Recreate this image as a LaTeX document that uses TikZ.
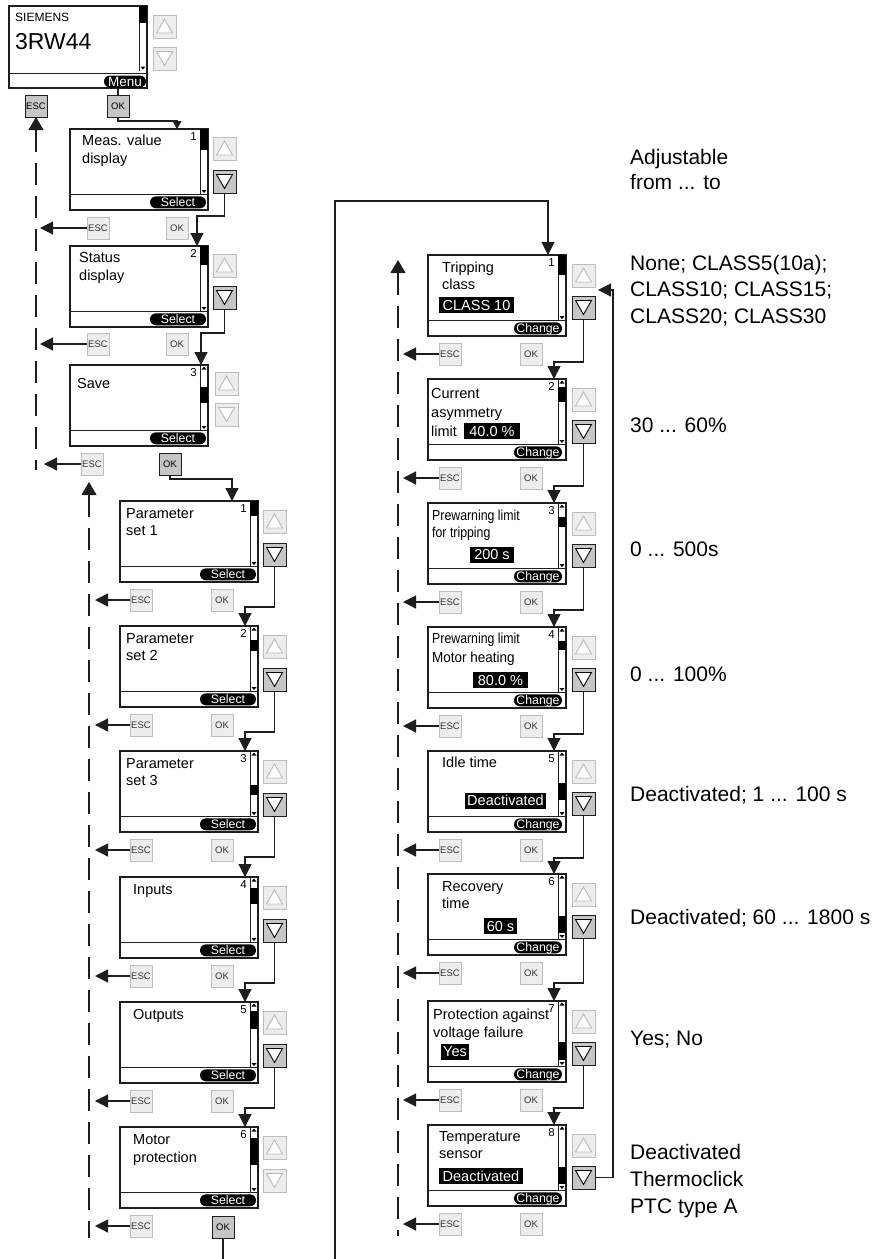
\documentclass[tikz,border=0pt]{standalone}
\usepackage{fontspec}
\setmainfont{Liberation Sans}
\usepackage{graphicx}
\usetikzlibrary{arrows.meta}

\definecolor{btnoff}{HTML}{EDEDED}
\definecolor{btnoffdraw}{HTML}{BDBDBD}
\definecolor{btnon}{HTML}{C6C6C6}
\definecolor{linec}{HTML}{1E1E1E}

\tikzset{
 screen/.style={draw=linec, line width=1.1pt, fill=white, anchor=north west, inner sep=0pt, outer sep=0pt, minimum width=138pt, minimum height=81pt},
 keyoff/.style={draw=btnoffdraw, line width=1pt, fill=btnoff, anchor=north west, minimum width=22pt, minimum height=22pt, inner sep=0pt, outer sep=0pt, text height=7pt, text depth=0pt, font=\fontsize{9.5}{9.5}\selectfont, text=black!80},
 keyon/.style={keyoff, draw=linec, fill=btnon, text=black},
 arrbtnoff/.style={draw=btnoffdraw, line width=1pt, fill=btnoff, anchor=north west, minimum width=23pt, minimum height=23pt, inner sep=0pt, outer sep=0pt},
 arrbtnon/.style={arrbtnoff, draw=linec, fill=btnon},
 trioff/.style={draw=black!28, fill=white, line width=0.9pt},
 trion/.style={draw=black, fill=white, line width=0.9pt},
 pill/.style={fill=black, text=white, rounded corners=6pt, minimum height=12pt, inner sep=0pt, text height=8.8pt, text depth=0pt, font=\fontsize{12.3}{12.3}\selectfont},
 val/.style={fill=black, text=white, inner sep=0pt, minimum height=16pt, text height=10.4pt, text depth=0pt, font=\fontsize{14.5}{14.5}\selectfont},
 txt/.style={anchor=base west, inner sep=0pt, font=\fontsize{14.5}{14.5}\selectfont},
 rtxt/.style={anchor=base west, inner sep=0pt, font=\fontsize{21}{21}\selectfont},
 num/.style={anchor=north east, inner sep=0pt, font=\fontsize{11.5}{11.5}\selectfont},
 conn/.style={draw=linec, line width=1.2pt},
 arr/.style={conn, -{Triangle[length=13pt,width=13pt]}},
 dashline/.style={conn, dash pattern=on 22pt off 11pt},
}

% name, x, y, pill text, thumb from, thumb to, number, pill width, pill centre offset
\newcommand\MyScreen[9]{%
 \node[screen] (#1) at (#2,#3) {};
 \draw[line width=1pt,linec] ({#2},{#3+65}) -- ({#2+138},{#3+65});
 \draw[line width=0.7pt,linec] ({#2+130},{#3}) -- ({#2+130},{#3+65});
 \fill[black] ({#2+131.5},{#3+4.5}) -- ({#2+136.5},{#3+4.5}) -- ({#2+134},{#3+1.5}) -- cycle;
 \fill[black] ({#2+131.5},{#3+61}) -- ({#2+136.5},{#3+61}) -- ({#2+134},{#3+64}) -- cycle;
 \fill[black] ({#2+130},{#3+#5}) rectangle ({#2+138},{#3+#6});
 \node[pill, minimum width=#8pt] (#1p) at ({#2+#9},{#3+73.3}) {#4};
 \node[num] (#1n) at ({#2+127},{#3+3}) {#7};
}
% prefix, x, y up, y down, up state, down state
\newcommand\MyUD[6]{%
 \node[arrbtn#5] (#1u) at (#2,#3) {};
 \filldraw[tri#5] ({#2+3.5},{#3+18}) -- ({#2+19.5},{#3+18}) -- ({#2+11.5},{#3+4}) -- cycle;
 \node[arrbtn#6] (#1d) at (#2,#4) {};
 \filldraw[tri#6] ({#2+3.5},{#4+4.5}) -- ({#2+19.5},{#4+4.5}) -- ({#2+11.5},{#4+18.5}) -- cycle;
}

\begin{document}
\begin{tikzpicture}[x=1pt,y=-1pt]
\useasboundingbox (0,0) rectangle (887,1259);
\fill[white] (0,0) rectangle (887,1259);

% ---------- top display ----------
\node[screen, minimum height=82pt] (s0) at (9,6) {};
\draw[line width=1pt,linec] (9,73) -- (147,73);
\draw[line width=0.7pt,linec] (139,6) -- (139,71);
\fill[black] (139,6) rectangle (147,23);
\fill[black] (140.5,66.5) -- (145.5,66.5) -- (143,69.5) -- cycle;
\node[anchor=base west, inner sep=0pt, font=\fontsize{12}{12}\selectfont] (s0a) at (15,21) {SIEMENS};
\node[anchor=base west, inner sep=0pt, font=\fontsize{23}{23}\selectfont] (s0b) at (15,49) {3RW44};
\node[pill, minimum width=42pt, minimum height=12pt, rounded corners=6pt, text height=9.8pt, font=\fontsize{13.5}{13.5}\selectfont] (s0p) at (125,81.5) {Menu};
\MyUD{s0}{153}{15}{47}{off}{off}
\node[keyon] (e0) at (25,95) {ESC};
\node[keyon] (o0) at (107,95) {OK};

% ---------- upper menu column ----------
\MyScreen{s1}{70}{129}{Select}{0}{21}{1}{56}{108}
\node[txt] (s1a) at (82,145) {Meas. value};
\node[txt] (s1b) at (82,163) {display};
\MyUD{s1}{213}{137}{170}{off}{on}
\node[keyoff] (e1) at (87,217) {ESC};
\node[keyoff] (o1) at (166,217) {OK};

\MyScreen{s2}{70}{246}{Select}{0}{19}{2}{56}{108}
\node[txt] (s2a) at (79,262) {Status};
\node[txt] (s2b) at (79,280) {display};
\MyUD{s2}{213}{254}{286}{off}{on}
\node[keyoff] (e2) at (87,333) {ESC};
\node[keyoff] (o2) at (166,333) {OK};

\MyScreen{s3}{70}{365}{Select}{22}{38}{3}{56}{108}
\node[txt] (s3a) at (77,388) {Save};
\MyUD{s3}{215}{372}{403}{off}{off}
\node[keyoff] (e3) at (81,453) {ESC};
\node[keyon] (o3) at (159,453) {OK};

% ---------- parameter set column ----------
\MyScreen{p1}{120}{501}{Select}{0}{15}{1}{56}{108}
\node[txt] (p1a) at (126,518) {Parameter};
\node[txt] (p1b) at (126,535) {set 1};
\MyUD{p1}{263}{510}{543}{off}{on}
\node[keyoff] (pe1) at (130,589) {ESC};
\node[keyoff] (po1) at (211,589) {OK};

\MyScreen{p2}{120}{626}{Select}{14}{25}{2}{56}{108}
\node[txt] (p2a) at (126,643) {Parameter};
\node[txt] (p2b) at (126,660) {set 2};
\MyUD{p2}{263}{635}{668}{off}{on}
\node[keyoff] (pe2) at (130,714) {ESC};
\node[keyoff] (po2) at (211,714) {OK};

\MyScreen{p3}{120}{751}{Select}{34}{44}{3}{56}{108}
\node[txt] (p3a) at (126,768) {Parameter};
\node[txt] (p3b) at (126,785) {set 3};
\MyUD{p3}{263}{760}{793}{off}{on}
\node[keyoff] (pe3) at (130,839) {ESC};
\node[keyoff] (po3) at (211,839) {OK};

\MyScreen{p4}{120}{877}{Select}{11}{27}{4}{56}{108}
\node[txt] (p4a) at (133,894) {Inputs};
\MyUD{p4}{263}{886}{919}{off}{on}
\node[keyoff] (pe4) at (130,965) {ESC};
\node[keyoff] (po4) at (211,965) {OK};

\MyScreen{p5}{120}{1002}{Select}{9}{27}{5}{56}{108}
\node[txt] (p5a) at (133,1019) {Outputs};
\MyUD{p5}{263}{1011}{1044}{off}{on}
\node[keyoff] (pe5) at (130,1090) {ESC};
\node[keyoff] (po5) at (211,1090) {OK};

\MyScreen{p6}{120}{1127}{Select}{11}{38}{6}{56}{108}
\node[txt] (p6a) at (133,1144) {Motor};
\node[txt] (p6b) at (133,1162) {protection};
\MyUD{p6}{263}{1136}{1169}{off}{off}
\node[keyoff] (pe6) at (130,1215) {ESC};
\node[keyon] (po6) at (212,1216) {OK};

% ---------- motor protection column ----------
\MyScreen{r1}{428}{255}{Change}{0}{20}{1}{48}{110}
\node[txt] (r1a) at (442,272) {Tripping};
\node[txt] (r1b) at (442,289) {class};
\node[val, minimum width=75pt] (r1v) at (476.5,305) {CLASS 10};
\MyUD{r1}{572}{264}{296}{off}{on}
\node[keyoff] (re1) at (439,343) {ESC};
\node[keyoff] (ro1) at (520,343) {OK};

\MyScreen{r2}{428}{379}{Change}{8}{23}{2}{48}{110}
\node[txt] (r2a) at (431,398) {Current};
\node[txt] (r2b) at (431,417) {asymmetry};
\node[txt] (r2c) at (431,436) {limit};
\node[val, minimum width=56pt] (r2v) at (492,431) {40.0 \%};
\MyUD{r2}{572}{388}{420}{off}{on}
\node[keyoff] (re2) at (439,467) {ESC};
\node[keyoff] (ro2) at (520,467) {OK};

\MyScreen{r3}{428}{503}{Change}{14}{24}{3}{48}{110}
\node[txt] (r3a) at (432,520) {\scalebox{0.85}[1]{Prewarning limit}};
\node[txt] (r3b) at (432,537) {\scalebox{0.85}[1]{for tripping}};
\node[val, minimum width=44pt] (r3v) at (492,554.5) {200 s};
\MyUD{r3}{572}{512}{544}{off}{on}
\node[keyoff] (re3) at (439,591) {ESC};
\node[keyoff] (ro3) at (520,591) {OK};

\MyScreen{r4}{428}{627}{Change}{14}{23}{4}{48}{110}
\node[txt] (r4a) at (432,643) {\scalebox{0.85}[1]{Prewarning limit}};
\node[txt] (r4b) at (432,662) {\scalebox{0.93}[1]{Motor heating}};
\node[val, minimum width=55pt] (r4v) at (500.5,680) {80.0 \%};
\MyUD{r4}{572}{636}{668}{off}{on}
\node[keyoff] (re4) at (439,715) {ESC};
\node[keyoff] (ro4) at (520,715) {OK};

\MyScreen{r5}{428}{751}{Change}{32}{49}{5}{48}{110}
\node[txt] (r5a) at (442,767) {Idle time};
\node[val, minimum width=81pt] (r5v) at (505.5,800.5) {Deactivated};
\MyUD{r5}{572}{760}{792}{off}{on}
\node[keyoff] (re5) at (439,839) {ESC};
\node[keyoff] (ro5) at (520,839) {OK};

\MyScreen{r6}{428}{874}{Change}{42}{59}{6}{48}{110}
\node[txt] (r6a) at (442,891) {Recovery};
\node[txt] (r6b) at (442,908) {time};
\node[val, minimum width=33pt] (r6v) at (500.5,926) {60 s};
\MyUD{r6}{572}{883}{915}{off}{on}
\node[keyoff] (re6) at (439,962) {ESC};
\node[keyoff] (ro6) at (520,962) {OK};

\MyScreen{r7}{428}{1001}{Change}{41}{59}{7}{48}{110}
\node[txt] (r7a) at (433,1019) {Protection against};
\node[txt] (r7b) at (433,1037) {voltage failure};
\node[val, minimum width=28pt] (r7v) at (455,1051.5) {Yes};
\MyUD{r7}{572}{1010}{1042}{off}{on}
\node[keyoff] (re7) at (439,1089) {ESC};
\node[keyoff] (ro7) at (520,1089) {OK};

\MyScreen{r8}{428}{1125}{Change}{42}{59}{8}{48}{110}
\node[txt] (r8a) at (439,1141) {Temperature};
\node[txt] (r8b) at (439,1158) {sensor};
\node[val, minimum width=84pt] (r8v) at (481,1176) {Deactivated};
\MyUD{r8}{572}{1134}{1166}{off}{on}
\node[keyoff] (re8) at (439,1213) {ESC};
\node[keyoff] (ro8) at (520,1213) {OK};

% ---------- right annotations ----------
\node[rtxt] (t1) at (630,164) {Adjustable};
\node[rtxt] (t2) at (630,189) {from ... to};
\node[rtxt] (t3) at (630,270) {None; CLASS5(10a);};
\node[rtxt] (t4) at (630,296.5) {CLASS10; CLASS15;};
\node[rtxt] (t5) at (630,323) {CLASS20; CLASS30};
\node[rtxt] (t6) at (630,432) {30 ... 60\%};
\node[rtxt] (t7) at (630,556) {0 ... 500s};
\node[rtxt] (t8) at (630,681) {0 ... 100\%};
\node[rtxt] (t9) at (630,801) {Deactivated; 1 ... 100 s};
\node[rtxt] (t10) at (630,924) {Deactivated; 60 ... 1800 s};
\node[rtxt] (t11) at (630,1045) {Yes; No};
\node[rtxt] (t12) at (630,1159) {Deactivated};
\node[rtxt] (t13) at (630,1186) {Thermoclick};
\node[rtxt] (t14) at (630,1213) {PTC type A};

% ---------- coordinates ----------
\coordinate (xa) at (40,0);
\coordinate (xb) at (44,0);
\coordinate (xc) at (95,0);
\coordinate (xd) at (403,0);
\coordinate (c0) at (177,121);
\coordinate (c1) at (197,216);
\coordinate (c2) at (201,333);
\coordinate (c3) at (232,479);
\coordinate (pc1) at (245,607);
\coordinate (pc2) at (245,732);
\coordinate (pc3) at (245,857);
\coordinate (pc4) at (245,983);
\coordinate (pc5) at (245,1108);
\coordinate (rc1) at (554,362);
\coordinate (rc2) at (554,486);
\coordinate (rc3) at (554,610);
\coordinate (rc4) at (554,734);
\coordinate (rc5) at (554,858);
\coordinate (rc6) at (554,983);
\coordinate (rc7) at (554,1108);
\coordinate (d1b) at (36,470);
\coordinate (d2t) at (89,482);
\coordinate (d2b) at (89,1238);
\coordinate (d3t) at (398,260);
\coordinate (d3b) at (398,1236);
\coordinate (bigB) at (335,1259);
\coordinate (bigT) at (335,201);
\coordinate (bigR) at (548,201);
\coordinate (lp) at (613,290);

% ---------- connectors ----------
\draw[conn] (s0p.south -| o0.north) -- (o0.north);
\draw[conn, -{Triangle[length=8pt,width=9pt]}] (o0.south) |- (c0) -- (c0 |- s1.north);
\draw[arr] (s1d.south) |- (c1) -- (c1 |- s2.north);
\draw[arr] (s2d.south) |- (c2) -- (c2 |- s3.north);
\draw[arr] (o3.south) |- (c3) -- (c3 |- p1.north);

\draw[arr] (p1d.south) |- (pc1) -- (pc1 |- p2.north);
\draw[arr] (p2d.south) |- (pc2) -- (pc2 |- p3.north);
\draw[arr] (p3d.south) |- (pc3) -- (pc3 |- p4.north);
\draw[arr] (p4d.south) |- (pc4) -- (pc4 |- p5.north);
\draw[arr] (p5d.south) |- (pc5) -- (pc5 |- p6.north);

\draw[arr] (r1d.south) |- (rc1) -- (rc1 |- r2.north);
\draw[arr] (r2d.south) |- (rc2) -- (rc2 |- r3.north);
\draw[arr] (r3d.south) |- (rc3) -- (rc3 |- r4.north);
\draw[arr] (r4d.south) |- (rc4) -- (rc4 |- r5.north);
\draw[arr] (r5d.south) |- (rc5) -- (rc5 |- r6.north);
\draw[arr] (r6d.south) |- (rc6) -- (rc6 |- r7.north);
\draw[arr] (r7d.south) |- (rc7) -- (rc7 |- r8.north);

\draw[arr] (r8d.east) -| (lp) -- ([xshift=3pt]r1u.east |- lp);

\draw[conn] (po6.south) -- (po6.south |- bigB);
\draw[arr] (bigB) -- (bigT) -- (bigR) -- (bigR |- r1.north);

% ESC returns
\draw[dashline, {Triangle[length=13pt,width=15pt]}-] (e0.south) -- (d1b);
\draw[arr] (e1.west) -- (e1.west -| xa);
\draw[arr] (e2.west) -- (e2.west -| xa);
\draw[arr] (e3.west) -- (e3.west -| xb);

\draw[dashline, {Triangle[length=13pt,width=15pt]}-] (d2t) -- (d2b);
\draw[arr] (pe1.west) -- (pe1.west -| xc);
\draw[arr] (pe2.west) -- (pe2.west -| xc);
\draw[arr] (pe3.west) -- (pe3.west -| xc);
\draw[arr] (pe4.west) -- (pe4.west -| xc);
\draw[arr] (pe5.west) -- (pe5.west -| xc);
\draw[arr] (pe6.west) -- (pe6.west -| xc);

\draw[dashline, {Triangle[length=13pt,width=15pt]}-] (d3t) -- (d3b);
\draw[arr] (re1.west) -- (re1.west -| xd);
\draw[arr] (re2.west) -- (re2.west -| xd);
\draw[arr] (re3.west) -- (re3.west -| xd);
\draw[arr] (re4.west) -- (re4.west -| xd);
\draw[arr] (re5.west) -- (re5.west -| xd);
\draw[arr] (re6.west) -- (re6.west -| xd);
\draw[arr] (re7.west) -- (re7.west -| xd);
\draw[arr] (re8.west) -- (re8.west -| xd);
\end{tikzpicture}
\end{document}
